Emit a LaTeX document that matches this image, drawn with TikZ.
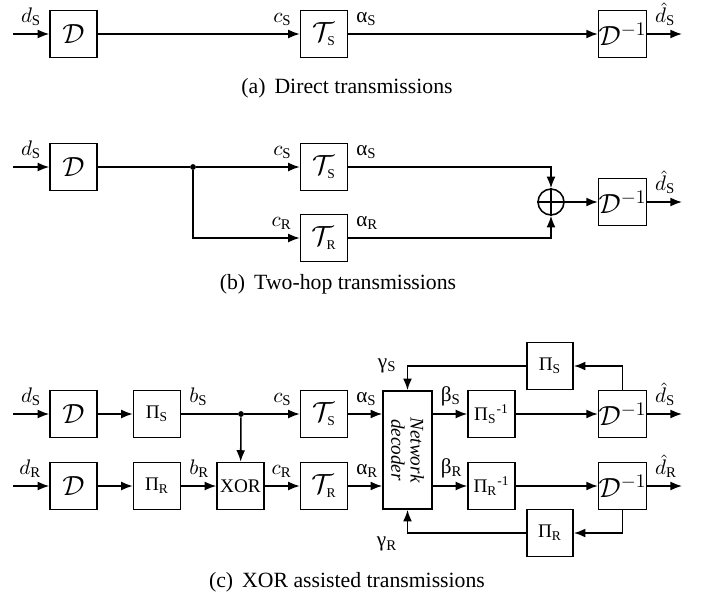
\documentclass[tikz,border=0pt]{standalone}
\usepackage{fontspec}
\setmainfont{Liberation Serif}
\usetikzlibrary{arrows.meta}
\definecolor{DiagramInk}{HTML}{000000}
\newcommand{\BlockSym}{\fontsize{14.4}{16}\selectfont}
\newcommand{\InverseSym}{\fontsize{13.8}{16}\selectfont}
\newcommand{\LabelText}{\fontsize{11}{13}\selectfont}
\newcommand{\CaptionText}{\fontsize{11.3}{13}\selectfont}
\newcommand{\DecoderText}{\fontsize{10}{10}\selectfont\itshape}
\tikzset{
  block/.style={draw=DiagramInk,line width=0.8pt,minimum width=24.4pt,minimum height=24.4pt,inner sep=0pt,text=DiagramInk},
  signal/.style={draw=DiagramInk,line width=0.8pt,-{Latex[length=6pt,width=4.6pt]}},
  wire/.style={draw=DiagramInk,line width=0.8pt},
  junction/.style={circle,fill=DiagramInk,inner sep=0pt,minimum size=3pt},
  adder/.style={circle,draw=DiagramInk,line width=0.8pt,inner sep=0pt,minimum size=13.5pt},
  sig label/.style={inner sep=4pt,text=DiagramInk,font=\LabelText},
  caption/.style={text=DiagramInk,font=\CaptionText}
}

\begin{document}
\begin{tikzpicture}[x=0.52pt,y=-0.52pt]
  % pixel grid of the 702 x 599 reference, y pointing down
  \path[use as bounding box] (0,0) rectangle (702,599);

  \def\rowA{34}
  \def\rowBS{167}
  \def\rowBR{238}
  \def\rowCS{414}
  \def\rowCR{486}

  % (a) direct transmissions
  \coordinate (inA) at (13,\rowA);
  \node[block] (encA) at (73.5,\rowA) {\BlockSym$\mathcal{D}$};
  \node[block] (chanSA) at (324,\rowA) {\BlockSym$\mathcal{T}_{\scriptscriptstyle\mathrm{S}}$};
  \node[block] (decA) at (622.5,\rowA) {\InverseSym$\mathcal{D}^{-1}$};
  \coordinate (outA) at (682,\rowA);
  \draw[signal] (inA) -- (encA);
  \draw[signal] (encA) -- (chanSA);
  \draw[signal] (chanSA) -- (decA);
  \draw[signal] (decA) -- (outA);
  \node[sig label,anchor=south east] (lblDA) at (encA.west) {$d_\mathrm{S}$};
  \node[sig label,anchor=south east] (lblCA) at (chanSA.west) {$c_\mathrm{S}$};
  \node[sig label,anchor=south west] (lblAlA) at (chanSA.east) {α$_\mathrm{S}$};
  \node[sig label,anchor=south west] (lblHatA) at (decA.east) {$\hat{d}_\mathrm{S}$};
  \node[caption] (capA) at (347,88) {(a)\, Direct transmissions};

  % (b) two-hop transmissions
  \coordinate (inB) at (13,\rowBS);
  \node[block] (encB) at (73.5,\rowBS) {\BlockSym$\mathcal{D}$};
  \node[junction] (splitB) at (193,\rowBS) {};
  \node[block] (chanSB) at (324,\rowBS) {\BlockSym$\mathcal{T}_{\scriptscriptstyle\mathrm{S}}$};
  \node[block] (chanRB) at (324,\rowBR) {\BlockSym$\mathcal{T}_{\scriptscriptstyle\mathrm{R}}$};
  \node[adder] (sumB) at (551,202) {};
  \draw[wire] (sumB.north) -- (sumB.south) (sumB.west) -- (sumB.east);
  \node[block] (decB) at (622.5,202) {\InverseSym$\mathcal{D}^{-1}$};
  \coordinate (outB) at (682,202);
  \draw[signal] (inB) -- (encB);
  \draw[wire] (encB) -- (splitB);
  \draw[signal] (splitB) -- (chanSB);
  \draw[signal] (splitB) |- (chanRB);
  \draw[signal] (chanSB) -| (sumB);
  \draw[signal] (chanRB) -| (sumB);
  \draw[signal] (sumB) -- (decB);
  \draw[signal] (decB) -- (outB);
  \node[sig label,anchor=south east] (lblDB) at (encB.west) {$d_\mathrm{S}$};
  \node[sig label,anchor=south east] (lblCSB) at (chanSB.west) {$c_\mathrm{S}$};
  \node[sig label,anchor=south east] (lblCRB) at (chanRB.west) {$c_\mathrm{R}$};
  \node[sig label,anchor=south west] (lblAlSB) at (chanSB.east) {α$_\mathrm{S}$};
  \node[sig label,anchor=south west] (lblAlRB) at (chanRB.east) {α$_\mathrm{R}$};
  \node[sig label,anchor=south west] (lblHatB) at (decB.east) {$\hat{d}_\mathrm{S}$};
  \node[caption] (capB) at (338,284) {(b)\, Two-hop transmissions};

  % (c) XOR assisted transmissions
  \coordinate (inSC) at (13,\rowCS);
  \coordinate (inRC) at (13,\rowCR);
  \node[block] (encSC) at (73.5,\rowCS) {\BlockSym$\mathcal{D}$};
  \node[block] (encRC) at (73.5,\rowCR) {\BlockSym$\mathcal{D}$};
  \node[block] (permS) at (157,\rowCS) {Π$_\mathrm{S}$};
  \node[block] (permR) at (157,\rowCR) {Π$_\mathrm{R}$};
  \node[junction] (splitC) at (241,\rowCS) {};
  \node[block] (xorC) at (240.5,\rowCR) {XOR};
  \node[block] (chanSC) at (324,\rowCS) {\BlockSym$\mathcal{T}_{\scriptscriptstyle\mathrm{S}}$};
  \node[block] (chanRC) at (324,\rowCR) {\BlockSym$\mathcal{T}_{\scriptscriptstyle\mathrm{R}}$};
  \node[block,minimum width=25.5pt,minimum height=61.4pt] (netdec) at (407.5,450) {};
  \node[rotate=-90,align=center,inner sep=0pt,font=\DecoderText] (netdecText)
    at (netdec.center) {Network\\decoder};
  \node[block] (depermS) at (491.5,\rowCS) {Π$_\mathrm{S}$\textsuperscript{-1}};
  \node[block] (depermR) at (491.5,\rowCR) {Π$_\mathrm{R}$\textsuperscript{-1}};
  \node[block] (decSC) at (622.5,\rowCS) {\InverseSym$\mathcal{D}^{-1}$};
  \node[block] (decRC) at (622.5,\rowCR) {\InverseSym$\mathcal{D}^{-1}$};
  \node[block,minimum width=24pt] (fbS) at (550,366) {Π$_\mathrm{S}$};
  \node[block,minimum width=24pt] (fbR) at (550,533) {Π$_\mathrm{R}$};
  \coordinate (outSC) at (682,\rowCS);
  \coordinate (outRC) at (682,\rowCR);

  \draw[signal] (inSC) -- (encSC);
  \draw[signal] (encSC) -- (permS);
  \draw[wire] (permS) -- (splitC);
  \draw[signal] (splitC) -- (chanSC);
  \draw[signal] (splitC) -- (xorC);
  \draw[signal] (inRC) -- (encRC);
  \draw[signal] (encRC) -- (permR);
  \draw[signal] (permR) -- (xorC);
  \draw[signal] (xorC) -- (chanRC);
  \draw[signal] (chanSC) -- (chanSC -| netdec.west);
  \draw[signal] (chanRC) -- (chanRC -| netdec.west);
  \draw[signal] (depermS -| netdec.east) -- (depermS);
  \draw[signal] (depermR -| netdec.east) -- (depermR);
  \draw[signal] (depermS) -- (decSC);
  \draw[signal] (depermR) -- (decRC);
  \draw[signal] (decSC) -- (outSC);
  \draw[signal] (decRC) -- (outRC);
  \draw[signal] (decSC.north) |- (fbS);
  \draw[signal] (fbS) -| (netdec);
  \draw[signal] (decRC.south) |- (fbR);
  \draw[signal] (fbR) -| (netdec);

  \node[sig label,anchor=south east] (lblDSC) at (encSC.west) {$d_\mathrm{S}$};
  \node[sig label,anchor=south east] (lblDRC) at (encRC.west) {$d_\mathrm{R}$};
  \node[sig label,anchor=south west] (lblBS) at (permS.east) {$b_\mathrm{S}$};
  \node[sig label,anchor=south west] (lblBR) at (permR.east) {$b_\mathrm{R}$};
  \node[sig label,anchor=south east] (lblCSC) at (chanSC.west) {$c_\mathrm{S}$};
  \node[sig label,anchor=south east] (lblCRC) at (chanRC.west) {$c_\mathrm{R}$};
  \node[sig label,anchor=south west] (lblAlSC) at (chanSC.east) {α$_\mathrm{S}$};
  \node[sig label,anchor=south west] (lblAlRC) at (chanRC.east) {α$_\mathrm{R}$};
  \node[sig label,anchor=south west] (lblBeS) at (depermS -| netdec.east) {β$_\mathrm{S}$};
  \node[sig label,anchor=south west] (lblBeR) at (depermR -| netdec.east) {β$_\mathrm{R}$};
  \node[sig label,anchor=south west] (lblHatSC) at (decSC.east) {$\hat{d}_\mathrm{S}$};
  \node[sig label,anchor=south west] (lblHatRC) at (decRC.east) {$\hat{d}_\mathrm{R}$};
  \node[sig label,anchor=east,inner xsep=5.5pt] (lblGaS) at (fbS -| netdec) {γ$_\mathrm{S}$};
  \node[sig label,anchor=north east,inner xsep=5.2pt,inner ysep=2pt] (lblGaR) at (fbR -| netdec) {γ$_\mathrm{R}$};
  \node[caption] (capC) at (347,582) {(c)\, XOR assisted transmissions};
\end{tikzpicture}
\end{document}
